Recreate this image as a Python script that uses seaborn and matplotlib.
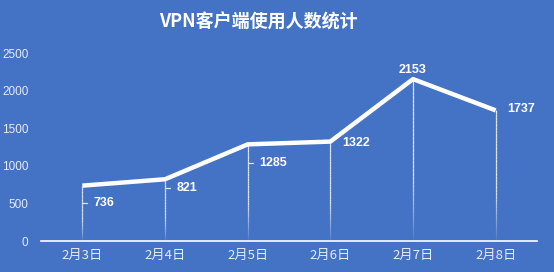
import numpy as np
import pandas as pd
import matplotlib
matplotlib.use("Agg")
import matplotlib.pyplot as plt
import matplotlib.transforms as mtransforms
from matplotlib.collections import LineCollection
from matplotlib.font_manager import FontProperties
import seaborn as sns

categories = ["2月3日", "2月4日", "2月5日", "2月6日", "2月7日", "2月8日"]
users = [736, 821, 1285, 1322, 2153, 1737]
y_ticks = [0, 500, 1000, 1500, 2000, 2500]
title = "VPN客户端使用人数统计"

# label offsets in pixels (dx, dy) and whether a leader tick is drawn
label_offsets = [(11, -17, True), (12, -9, True), (12, -19, True), (12, -1, False), (0, 9, False), (12, 1, False)]

BG = "#4472C4"
sns.set_theme(style="white")
plt.rcParams["font.family"] = ["Liberation Sans", "Noto Sans CJK SC", "DejaVu Sans"]

df = pd.DataFrame({"date": categories, "users": users})

fig = plt.figure(figsize=(5.54, 2.72), dpi=100, facecolor=BG)
ax = fig.add_axes([41/554, 1-241/272, (537-41)/554, (241-53)/272])
ax.set_facecolor(BG)

# drop lines with fading gradient
segs, cols = [], []
n = 40
for i, v in enumerate(users):
    ys = np.linspace(0, v, n + 1)
    for k in range(n):
        segs.append([(i, ys[k]), (i, ys[k + 1])])
        frac = (k + 0.5) / n
        a = min(0.85, 0.05 + frac * 2.0)
        cols.append((1, 1, 1, a))
ax.add_collection(LineCollection(segs, colors=cols, linewidths=0.9, zorder=2))

sns.lineplot(data=df, x="date", y="users", ax=ax, color="white", linewidth=3.2,
             sort=False, zorder=3, solid_capstyle="butt")

ax.set_xlim(-0.5, len(categories) - 0.5)
ax.set_ylim(0, 2500)
ax.set_yticks(y_ticks)
ax.set_yticklabels([str(t) for t in y_ticks], fontsize=8.5, color="#E6ECF7",
                   family=["Liberation Sans", "DejaVu Sans"])
ax.tick_params(axis="y", length=0, pad=9)

# x ticks at boundaries, labels at centres
ax.set_xticks(np.arange(-0.5, len(categories), 1.0))
ax.set_xticklabels([])
ax.set_xticks(np.arange(len(categories)), minor=True)
ax.set_xticklabels(categories, minor=True)
ax.tick_params(axis="x", which="major", length=4, width=1, color="white", direction="out")
ax.tick_params(axis="x", which="minor", length=0, pad=6)
for lbl in ax.get_xticklabels(minor=True):
    lbl.set_fontproperties(FontProperties(family="Noto Sans CJK SC", size=9.5))
    lbl.set_color("#E6ECF7")

ax.set_xlabel("")
ax.set_ylabel("")
for s in ["top", "right", "left"]:
    ax.spines[s].set_visible(False)
ax.spines["bottom"].set_color("white")
ax.spines["bottom"].set_linewidth(1.2)

# data labels
px = 72 / fig.dpi
for i, (v, (dx, dy, leader)) in enumerate(zip(users, label_offsets)):
    ha = "center" if not leader and dy > 5 else "left"
    ax.annotate(str(v), xy=(i, v), xytext=(dx * px, dy * px), textcoords="offset points",
                ha=ha, va="center", fontsize=9, fontweight="bold", color="white", zorder=4)
    if leader:
        t1 = mtransforms.offset_copy(ax.transData, fig=fig, x=1 * px, y=dy * px, units="points")
        t2 = mtransforms.offset_copy(ax.transData, fig=fig, x=5 * px, y=dy * px, units="points")
        p1 = t1.transform((i, v))
        p2 = t2.transform((i, v))
        fig.add_artist(plt.Line2D([p1[0] / fig.bbox.width, p2[0] / fig.bbox.width],
                                  [p1[1] / fig.bbox.height, p2[1] / fig.bbox.height],
                                  transform=fig.transFigure, color="#DDE6F5", linewidth=0.9))

fig.text(258/554, 1-22/272, title, ha="center", va="center", fontsize=13, fontweight="bold",
         color="white", family=["Noto Sans CJK SC", "DejaVu Sans"])

fig.savefig("out.png", dpi=100, facecolor=BG)
